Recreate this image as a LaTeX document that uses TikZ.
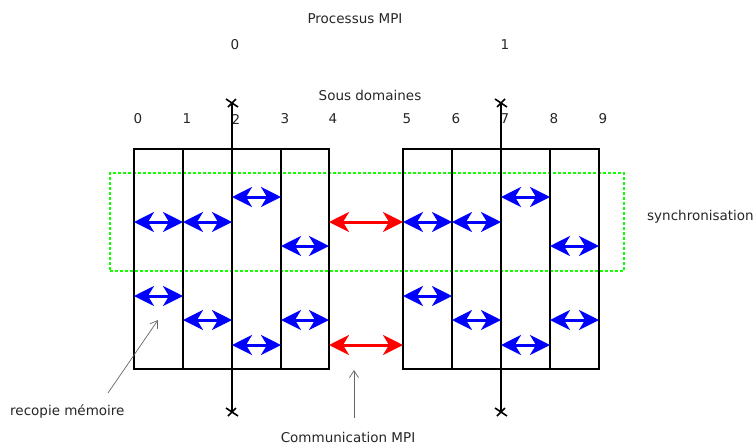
\documentclass[tikz,border=0pt]{standalone}
\usepackage{fontspec}
\setmainfont{DejaVu Sans}
\usetikzlibrary{arrows.meta,calc}
\begin{document}
\begin{tikzpicture}[x=1pt,y=-1pt,
  txt/.style={font=\fontsize{13.5}{16}\selectfont, text=black!85, inner sep=0pt},
  colline/.style={line width=2.4pt, black},
  procaxis/.style={line width=2.2pt, black},
  blu/.style={line width=3pt, blue, {Stealth[length=20pt,width=20pt,inset=6pt]}-{Stealth[length=20pt,width=20pt,inset=6pt]}},
  rd/.style={line width=3pt, red, {Stealth[length=20pt,width=20pt,inset=6pt]}-{Stealth[length=20pt,width=20pt,inset=6pt]}},
  note/.style={line width=0.7pt, black!60, -{Straight Barb[length=7pt,width=9pt]}},
  sync/.style={line width=2.6pt, green!90!lime, dash pattern=on 2.6pt off 2.4pt}
]
\useasboundingbox (0,0) rectangle (754,445);
% column coordinates
\foreach \i/\x in {0/134,1/183,2/232,3/281,4/329,5/403,6/452,7/501,8/550,9/599}{
  \coordinate (t\i) at (\x,149);
  \coordinate (b\i) at (\x,369);
  \node[txt] (n\i) at (\x+4,119) {\i};
}
% sync box
\node[draw, sync, minimum width=514pt, minimum height=98pt, inner sep=0pt] (syncbox) at (367,222) {};
% blocks
\draw[colline] (b0) -- (t0) -- (t4) -- (b4) -- cycle;
\foreach \i in {1,2,3}{\draw[colline] (t\i) -- (b\i);}
\draw[colline] (b5) -- (t5) -- (t9) -- (b9) -- cycle;
\foreach \i in {6,7,8}{\draw[colline] (t\i) -- (b\i);}
% process axes
\coordinate (pa0) at (232,103); \coordinate (pb0) at (232,412);
\coordinate (pa1) at (501,103); \coordinate (pb1) at (501,412);
\foreach \p in {0,1}{
  \draw[procaxis] (pa\p) -- (pb\p);
  \draw[line width=1.6pt] ($(pa\p)+(-6,-4)$) -- ($(pa\p)+(6,4)$);
  \draw[line width=1.6pt] ($(pa\p)+(-4,4)$) -- ($(pa\p)+(4,-4)$);
  \draw[line width=1.6pt] ($(pb\p)+(-6,-4)$) -- ($(pb\p)+(6,4)$);
  \draw[line width=1.6pt] ($(pb\p)+(-4,4)$) -- ($(pb\p)+(4,-4)$);
}
% arrows
\foreach \a/\b/\y in {0/1/222,1/2/222,5/6/222,6/7/222,2/3/197,7/8/197,3/4/246,8/9/246,
                      0/1/296,5/6/296,1/2/320,3/4/320,6/7/320,8/9/320,2/3/345,7/8/345}{
  \draw[blu] (t\a |- 0,\y) -- (t\b |- 0,\y);
}
\draw[rd] (t4 |- 0,222) -- (t5 |- 0,222);
\draw[rd] (t4 |- 0,345) -- (t5 |- 0,345);
% labels
\node[txt] (proc) at (355,19) {Processus MPI};
\node[txt] (p0) at (235,45) {0};
\node[txt] (p1) at (505,45) {1};
\node[txt] (sd) at (370,95) {Sous domaines};
\node[txt, anchor=west] (syn) at (647,217) {synchronisation};
\node[txt, anchor=west] (rec) at (10,411) {recopie mémoire};
\node[txt] (com) at (348,437) {Communication MPI};
\coordinate (recend) at (158,320);
\coordinate (recstart) at (108,393);
\coordinate (comend) at (354,370);
\coordinate (comstart) at (354,418);
\draw[note] (recstart) -- (recend);
\draw[note] (comstart) -- (comend);
\end{tikzpicture}
\end{document}
